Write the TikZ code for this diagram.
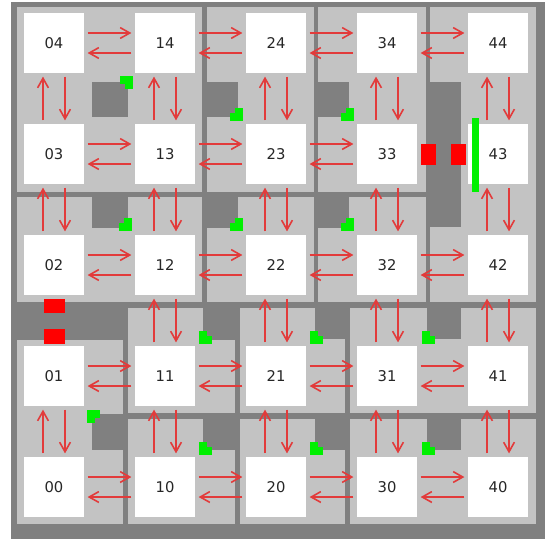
\documentclass[tikz,border=0pt]{standalone}
\usepackage{fontspec}
\setsansfont{DejaVu Sans}
\usetikzlibrary{arrows.meta,positioning}
\definecolor{Ink}{HTML}{262626}
\definecolor{WallGrey}{HTML}{808080}
\definecolor{RoomGrey}{HTML}{C3C3C3}
\definecolor{FlowRed}{HTML}{E23B3B}
\definecolor{DoorRed}{HTML}{FF0000}
\definecolor{TabGreen}{HTML}{00F000}
\tikzset{
  wall/.style={fill=WallGrey},
  room/.style={fill=RoomGrey},
  door/.style={fill=DoorRed},
  tab/.style={fill=TabGreen},
  state cell/.style={fill=white, minimum width=15mm, minimum height=15mm, inner sep=0pt, outer sep=0pt,
    font=\sffamily\fontsize{10.5}{12}\selectfont, text=Ink},
  move/.style={-{Straight Barb[length=2.4mm,width=2.7mm]}, draw=FlowRed, line width=0.4mm,
    shorten <=0.9mm, shorten >=0.9mm},
}

\begin{document}
\begin{tikzpicture}[x=0.25mm, y=-0.25mm, node distance=12.75mm]
  \useasboundingbox (0,0) rectangle (545,539);
  \fill[white] (0,0) rectangle (545,539);

  % Outer frame, then the rooms cut out of it.
  \fill[wall] (11,2) rectangle (545,539);
  \fill[room] (17,7) rectangle (202,192);
  \fill[room] (207,7) rectangle (314,192);
  \fill[room] (318,7) rectangle (426,192);
  \fill[room] (430,7) rectangle (536,302);
  \fill[room] (17,197) rectangle (202,302);
  \fill[room] (207,197) rectangle (314,302);
  \fill[room] (318,197) rectangle (426,302);
  \fill[room] (17,340) rectangle (123,524);
  \fill[room] (128,308) rectangle (235,413);
  \fill[room] (128,419) rectangle (235,524);
  \fill[room] (240,308) rectangle (345,413);
  \fill[room] (240,419) rectangle (345,524);
  \fill[room] (350,308) rectangle (536,413);
  \fill[room] (350,419) rectangle (536,524);

  % Pillars between the cells.
  \fill[wall] (92,82) rectangle (128,117);
  \fill[wall] (207,82) rectangle (238,117);
  \fill[wall] (318,82) rectangle (349,117);
  \fill[wall] (430,82) rectangle (461,227);
  \fill[wall] (92,197) rectangle (128,228);
  \fill[wall] (207,197) rectangle (238,228);
  \fill[wall] (318,197) rectangle (349,228);
  \fill[wall] (92,414) rectangle (123,450);
  \fill[wall] (203,308) rectangle (235,340);
  \fill[wall] (203,419) rectangle (235,450);
  \fill[wall] (315,308) rectangle (345,339);
  \fill[wall] (315,419) rectangle (345,450);
  \fill[wall] (427,308) rectangle (461,339);
  \fill[wall] (427,419) rectangle (461,450);

  % Green tabs on the pillar corners (notch towards the pillar).
  \foreach \x/\y/\nx/\ny in {120/76/120/84, 230/108/230/108, 341/108/341/108,
      119/218/119/218, 230/218/230/218, 341/218/341/218, 87/410/95/418,
      199/331/207/331, 199/442/207/442, 310/331/318/331, 310/442/318/442,
      422/331/430/331, 422/442/430/442} {
    \fill[tab] (\x,\y) rectangle +(13,13);
    \fill[wall] (\nx,\ny) rectangle +(5,5);
  }

  % Red doors.
  \fill[door] (44,299) rectangle (65,313);
  \fill[door] (44,329) rectangle (65,344);
  \fill[door] (421,144) rectangle (436,165);
  \fill[door] (451,144) rectangle (466,165);

  % State cells.
  \node[state cell] (s04) at (54,43) {04};
  \node[state cell, right=of s04] (s14) {14};
  \node[state cell, right=of s14] (s24) {24};
  \node[state cell, right=of s24] (s34) {34};
  \node[state cell, right=of s34] (s44) {44};
  \node[state cell, below=of s04] (s03) {03};
  \node[state cell, right=of s03] (s13) {13};
  \node[state cell, right=of s13] (s23) {23};
  \node[state cell, right=of s23] (s33) {33};
  \node[state cell, right=of s33] (s43) {43};
  \node[state cell, below=of s03] (s02) {02};
  \node[state cell, right=of s02] (s12) {12};
  \node[state cell, right=of s12] (s22) {22};
  \node[state cell, right=of s22] (s32) {32};
  \node[state cell, right=of s32] (s42) {42};
  \node[state cell, below=of s02] (s01) {01};
  \node[state cell, right=of s01] (s11) {11};
  \node[state cell, right=of s11] (s21) {21};
  \node[state cell, right=of s21] (s31) {31};
  \node[state cell, right=of s31] (s41) {41};
  \node[state cell, below=of s01] (s00) {00};
  \node[state cell, right=of s00] (s10) {10};
  \node[state cell, right=of s10] (s20) {20};
  \node[state cell, right=of s20] (s30) {30};
  \node[state cell, right=of s30] (s40) {40};

  % Green bar in front of 43.
  \fill[tab] (472,118) rectangle (479,192);

  % Moves between neighbouring cells.
  \foreach \a/\b in {04/14, 14/24, 24/34, 34/44, 03/13, 13/23, 23/33,
      02/12, 12/22, 22/32, 32/42, 01/11, 11/21, 21/31, 31/41,
      00/10, 10/20, 20/30, 30/40} {
    \draw[move] ([yshift=2.5mm]s\a.east) -- ([yshift=2.5mm]s\b.west);
    \draw[move] ([yshift=-2.5mm]s\b.west) -- ([yshift=-2.5mm]s\a.east);
  }
  \foreach \a/\b in {04/03, 03/02, 01/00, 14/13, 13/12, 12/11, 11/10,
      24/23, 23/22, 22/21, 21/20, 34/33, 33/32, 32/31, 31/30,
      44/43, 43/42, 42/41, 41/40} {
    \draw[move] ([xshift=-2.75mm]s\b.north) -- ([xshift=-2.75mm]s\a.south);
    \draw[move] ([xshift=2.75mm]s\a.south) -- ([xshift=2.75mm]s\b.north);
  }
\end{tikzpicture}
\end{document}
